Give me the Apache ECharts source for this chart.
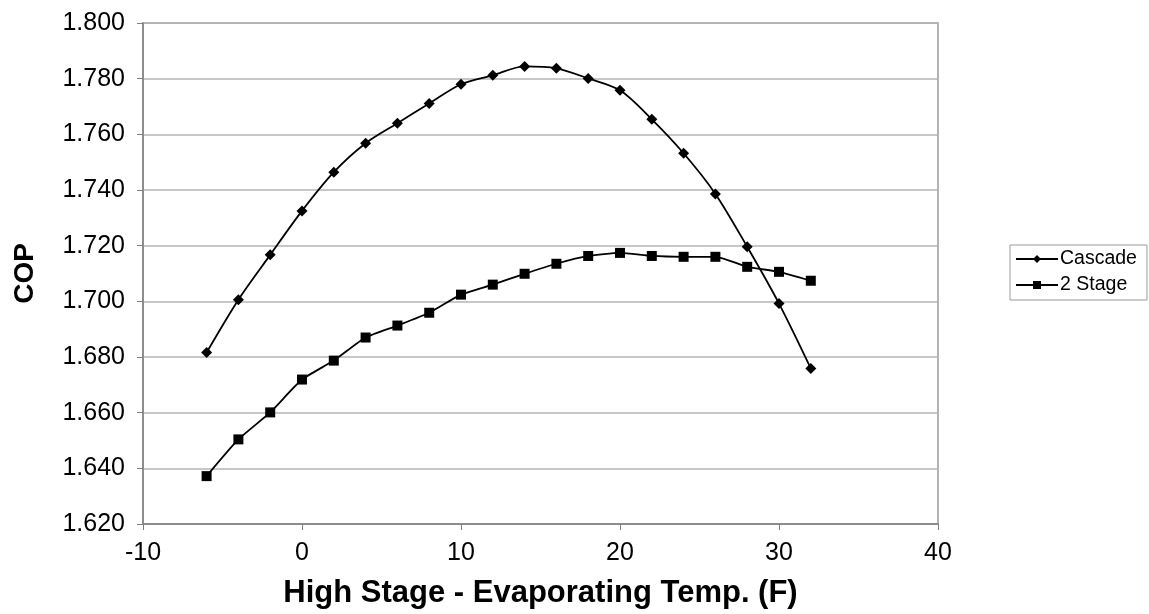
<!DOCTYPE html>
<html>
<head>
<meta charset="utf-8">
<script src="https://cdn.jsdelivr.net/npm/echarts@6/dist/echarts.min.js"></script>
<style>
  html, body { margin: 0; padding: 0; background: #fff; }
  #chart { width: 1149px; height: 614px; }
</style>
</head>
<body>
<div id="chart"></div>
<script>
// High-stage evaporating temperature (F)
const temps = [-6, -4, -2, 0, 2, 4, 6, 8, 10, 12, 14, 16, 18, 20, 22, 24, 26, 28, 30, 32];
// COP, cascade system
const cascadeCop = [1.6816, 1.7006, 1.7167, 1.7325, 1.7464, 1.7568, 1.7640, 1.7711, 1.7780, 1.7812,
                    1.7844, 1.7837, 1.7801, 1.7758, 1.7654, 1.7532, 1.7386, 1.7196, 1.6992, 1.6759];
// COP, two-stage system
const twoStageCop = [1.6372, 1.6504, 1.6601, 1.6719, 1.6787, 1.6870, 1.6913, 1.6959, 1.7024, 1.7060,
                     1.7099, 1.7135, 1.7163, 1.7174, 1.7163, 1.7160, 1.7160, 1.7124, 1.7106, 1.7074];
const seriesNames = ['Cascade', '2 Stage'];

const pairs = (xs, ys) => xs.map((x, i) => [x, ys[i]]);

const chart = echarts.init(document.getElementById('chart'));
chart.setOption({
  animation: false,
  backgroundColor: '#ffffff',
  textStyle: { fontFamily: 'Liberation Sans, Arial, sans-serif' },
  grid: { left: 143, top: 23, right: 211, bottom: 88, show: true, borderColor: '#9a9a9a', borderWidth: 1.5 },
  legend: {
    orient: 'vertical',
    left: 1010,
    top: 245,
    data: seriesNames,
    itemWidth: 42,
    itemHeight: 10,
    itemGap: 6,
    padding: [4, 10, 5, 5],
    borderColor: '#9a9a9a',
    borderWidth: 1,
    textStyle: { fontSize: 19.5, color: '#000', padding: [0, 0, 0, -3] }
  },
  xAxis: {
    type: 'value',
    min: -10, max: 40, interval: 10,
    name: 'High Stage - Evaporating Temp. (F)',
    nameLocation: 'middle',
    nameGap: 54,
    nameTextStyle: { fontSize: 31, fontWeight: 'bold', color: '#000' },
    axisLine: { onZero: false, lineStyle: { color: '#808080', width: 1.5 } },
    axisTick: { show: true, length: 6, lineStyle: { color: '#808080' } },
    axisLabel: { fontSize: 25, color: '#000', margin: 17 },
    splitLine: { show: false }
  },
  yAxis: {
    type: 'value',
    min: 1.62, max: 1.80, interval: 0.02,
    name: 'COP',
    nameLocation: 'middle',
    nameGap: 104,
    nameTextStyle: { fontSize: 28, fontWeight: 'bold', color: '#000' },
    axisLine: { show: true, onZero: false, lineStyle: { color: '#808080', width: 1.5 } },
    axisTick: { show: true, length: 6, lineStyle: { color: '#808080' } },
    axisLabel: { fontSize: 25, color: '#000', margin: 18, formatter: v => v.toFixed(3) },
    splitLine: { show: true, lineStyle: { color: '#b4b4b4', width: 1.5 } }
  },
  series: [
    {
      name: seriesNames[0],
      type: 'line',
      data: pairs(temps, cascadeCop),
      smooth: 0.3,
      symbol: 'diamond',
      symbolSize: 11,
      itemStyle: { color: '#000' },
      lineStyle: { color: '#000', width: 1.8 }
    },
    {
      name: seriesNames[1],
      type: 'line',
      data: pairs(temps, twoStageCop),
      smooth: 0.2,
      symbol: 'rect',
      symbolSize: 10,
      itemStyle: { color: '#000' },
      lineStyle: { color: '#000', width: 1.8 }
    }
  ]
});
</script>
</body>
</html>
